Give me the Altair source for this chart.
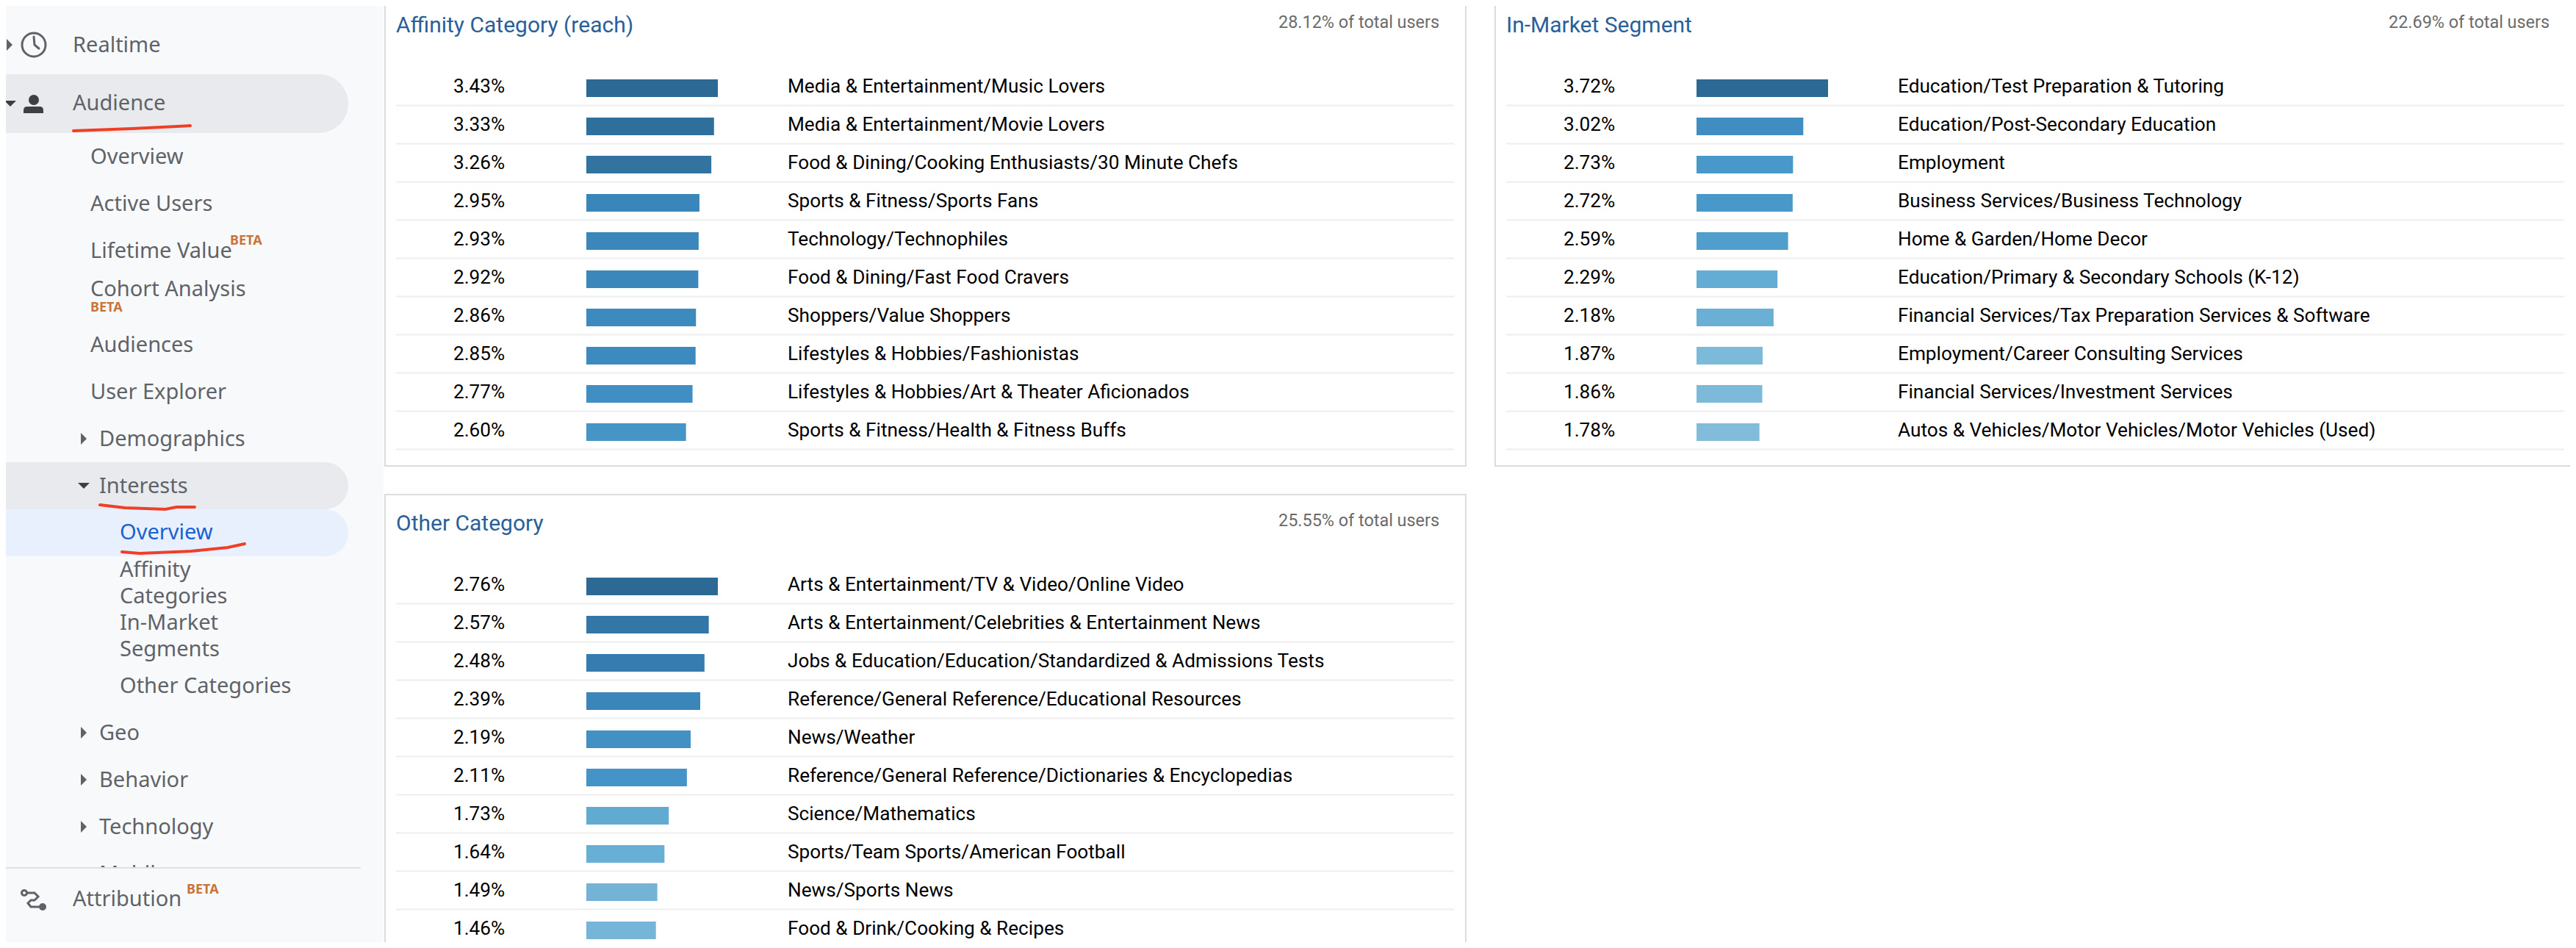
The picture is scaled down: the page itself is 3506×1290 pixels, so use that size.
import altair as alt
import pandas as pd

# ---------- data ----------
AFF_CATS = ["Media & Entertainment/Music Lovers", "Media & Entertainment/Movie Lovers",
            "Food & Dining/Cooking Enthusiasts/30 Minute Chefs", "Sports & Fitness/Sports Fans",
            "Technology/Technophiles", "Food & Dining/Fast Food Cravers", "Shoppers/Value Shoppers",
            "Lifestyles & Hobbies/Fashionistas", "Lifestyles & Hobbies/Art & Theater Aficionados",
            "Sports & Fitness/Health & Fitness Buffs"]
AFF_VALS = [3.43, 3.33, 3.26, 2.95, 2.93, 2.92, 2.86, 2.85, 2.77, 2.60]

MKT_CATS = ["Education/Test Preparation & Tutoring", "Education/Post-Secondary Education", "Employment",
            "Business Services/Business Technology", "Home & Garden/Home Decor",
            "Education/Primary & Secondary Schools (K-12)", "Financial Services/Tax Preparation Services & Software",
            "Employment/Career Consulting Services", "Financial Services/Investment Services",
            "Autos & Vehicles/Motor Vehicles/Motor Vehicles (Used)"]
MKT_VALS = [3.72, 3.02, 2.73, 2.72, 2.59, 2.29, 2.18, 1.87, 1.86, 1.78]

OTH_CATS = ["Arts & Entertainment/TV & Video/Online Video", "Arts & Entertainment/Celebrities & Entertainment News",
            "Jobs & Education/Education/Standardized & Admissions Tests", "Reference/General Reference/Educational Resources",
            "News/Weather", "Reference/General Reference/Dictionaries & Encyclopedias", "Science/Mathematics",
            "Sports/Team Sports/American Football", "News/Sports News", "Food & Drink/Cooking & Recipes"]
OTH_VALS = [2.76, 2.57, 2.48, 2.39, 2.19, 2.11, 1.73, 1.64, 1.49, 1.46]

PANEL_TITLES = ["Affinity Category (reach)", "In-Market Segment", "Other Category"]
PANEL_NOTES = ["28.12% of total users", "22.69% of total users", "25.55% of total users"]

NAV_MAIN = ["Realtime", "Audience", "Attribution"]
NAV_SUB = ["Overview", "Active Users", "Lifetime Value", "Cohort Analysis", "Audiences", "User Explorer"]
NAV_EXP = ["Demographics", "Interests", "Geo", "Behavior", "Technology", "Mobile"]
NAV_LEAF = ["Affinity", "Categories", "In-Market", "Segments", "Other Categories"]

# ---------- styles / layout (reference pixels; the page margin is taken off) ----------
M = 8
W, H = 3490, 1274
RAMP_D = [0.47, 0.50, 0.54, 0.60, 0.63, 0.73, 0.80, 0.86, 0.90, 0.95, 1.0]
RAMP_C = ["#85bcdb", "#7dbad9", "#74b3d6", "#66afd4", "#60a9d2", "#4899c9", "#418fc4", "#3a86ba",
          "#377cb0", "#3273a0", "#2c6a95"]
GREY = "#5f6368"
ORANGE = "#c9743a"
RED = "#ee4027"
FONT = "Roboto"
NAVFONT = "Noto Sans"
NAVSIZE = 29
TRI_RIGHT = "M-0.5,-1L0.5,0L-0.5,1Z"
TRI_DOWN = "M-1,-0.5L1,-0.5L0,0.5Z"
TRI_SIZE = 256


def pv(v):
    return alt.value(v - M)


def txt(s, x, y, size, color, font=FONT, align="left", weight="normal"):
    return alt.Chart(pd.DataFrame({"t": [s]})).mark_text(
        align=align, baseline="middle", font=font, fontSize=size, color=color, fontWeight=weight
    ).encode(x=pv(x), y=pv(y), text="t:N")


def box(x0, x1, y0, y1, fill, **kw):
    return alt.Chart(pd.DataFrame({"a": [0]})).mark_rect(fill=fill, **kw).encode(
        x=pv(x0), x2=pv(x1), y=pv(y0), y2=pv(y1))


def sym(shape, x, y, size, color, filled=True, sw=0):
    return alt.Chart(pd.DataFrame({"a": [0]})).mark_point(
        shape=shape, size=size, filled=filled, opacity=1, color=color, strokeWidth=sw
    ).encode(x=pv(x), y=pv(y))


def stroke(points, color, width, interp="linear"):
    df = pd.DataFrame({"x": [p[0] - M for p in points], "y": [p[1] - M for p in points],
                       "i": list(range(len(points)))})
    return alt.Chart(df).mark_line(color=color, strokeWidth=width, strokeCap="round", interpolate=interp).encode(
        x=alt.X("x:Q", scale=None, axis=None), y=alt.Y("y:Q", scale=None, axis=None), order="i:Q")


def panel(cats, vals, title, note, left, right, box_top, top, bottom):
    """left/right/box_top/bottom: reference pixels of the box; rows hang from top."""
    df = pd.DataFrame({"c": cats, "v": vals, "pct": [f"{v:.2f}%" for v in vals],
                       "ratio": [v / max(vals) for v in vals]})
    yenc = alt.Y("c:N", sort=None, axis=None,
                 scale=alt.Scale(domain=cats, range=[top - M, top + 520 - M], paddingInner=0, paddingOuter=0))
    xenc = alt.X("v:Q", axis=None,
                 scale=alt.Scale(domain=[0, max(vals)], range=[left + 274 - M, left + 453 - M], nice=False, zero=True))
    out = [box(left, right, box_top, bottom, "#ffffff", stroke="#dcdcdc", strokeWidth=2)]
    out.append(alt.Chart(df).mark_rule(color="#eeeeee", strokeWidth=2, yOffset=23.5).encode(
        y=yenc, x=pv(left + 15), x2=pv(left + 1455)))
    out.append(alt.Chart(df).mark_bar(height=24).encode(
        x=xenc, y=yenc,
        color=alt.Color("ratio:Q", legend=None,
                        scale=alt.Scale(domain=RAMP_D, range=RAMP_C, interpolate="rgb"))))
    base = dict(align="left", baseline="middle", font=FONT, fontSize=26.2, color="#000000", dy=-2)
    out.append(alt.Chart(df).mark_text(**base).encode(x=pv(left + 93), y=yenc, text="pct:N"))
    out.append(alt.Chart(df).mark_text(**base).encode(x=pv(left + 548), y=yenc, text="c:N"))
    out.append(txt(title, left + 15, top - 59, 30, "#2a6099"))
    out.append(txt(note, left + 1435, top - 63, 23.4, "#6b6b6b", align="right"))
    return out


layers = []
# sidebar background and pills
layers.append(box(0, 522, 0, 1290, "#f8f9fb"))
layers.append(box(0, 474, 101, 181, "#e8eaed", cornerRadiusTopRight=40, cornerRadiusBottomRight=40))
layers.append(box(0, 474, 629, 693, "#e8eaed", cornerRadiusTopRight=32, cornerRadiusBottomRight=32))
layers.append(box(0, 474, 693, 757, "#e8f0fe", cornerRadiusTopRight=32, cornerRadiusBottomRight=32))

# panels
layers += panel(AFF_CATS, AFF_VALS, PANEL_TITLES[0], PANEL_NOTES[0], 524, 1995, 0, 94, 634)
layers += panel(MKT_CATS, MKT_VALS, PANEL_TITLES[1], PANEL_NOTES[1], 2035, 3505, 0, 94, 634)
layers += panel(OTH_CATS, OTH_VALS, PANEL_TITLES[2], PANEL_NOTES[2], 524, 1995, 673, 772, 1310)

# sidebar text
for s, y in zip(NAV_SUB, [214, 278, 342, 394, 470, 534]):
    layers.append(txt(s, 123, y, NAVSIZE, GREY, NAVFONT))
for s, y in zip(NAV_EXP, [598, 662, 998, 1062, 1126, 1190]):
    layers.append(txt(s, 135, y, NAVSIZE, GREY, NAVFONT))
    if s == "Interests":
        layers.append(sym(TRI_DOWN, 114, y - 1, TRI_SIZE, "#3c4043"))
    elif s != "Mobile":
        layers.append(sym(TRI_RIGHT, 114, y - 1, TRI_SIZE, GREY))
layers.append(txt("Overview", 163, 725, NAVSIZE, "#1a62d0", NAVFONT))
for s, y in zip(NAV_LEAF, [776, 812, 848, 884, 934]):
    layers.append(txt(s, 163, y, NAVSIZE, GREY, NAVFONT))

# lower block covers the clipped "Mobile" row
layers.append(box(0, 522, 1181, 1290, "#f8f9fb"))
layers.append(stroke([(0, 1181), (490, 1181)], "#dfe1e5", 2))

for s, y in zip(NAV_MAIN, [62, 141, 1224]):
    layers.append(txt(s, 99, y, NAVSIZE, GREY, NAVFONT))
for x, y in [(313, 328), (123, 419), (254, 1211)]:
    layers.append(txt("BETA", x, y, 18, ORANGE, NAVFONT, weight="bold"))

# triangles and icons
layers.append(sym(TRI_RIGHT, 13, 61, TRI_SIZE, GREY))
layers.append(sym(TRI_DOWN, 14, 141, TRI_SIZE, "#3c4043"))
layers.append(sym("circle", 46, 61, 1024, GREY, filled=False, sw=3))
layers.append(stroke([(46, 50), (47, 61), (53, 66)], GREY, 3))
layers.append(sym("circle", 46, 136, 196, "#3c4043"))
layers.append(box(32, 59, 145, 154, "#3c4043", cornerRadiusTopLeft=8, cornerRadiusTopRight=8))
layers.append(sym("circle", 33, 1215, 49, GREY, filled=False, sw=3))
layers.append(stroke([(37, 1215), (47, 1215), (52, 1220), (47, 1225), (42, 1225), (38, 1229), (42, 1234), (54, 1234)],
                     GREY, 3))
layers.append(sym("circle", 58, 1234, 100, GREY))
layers.append(sym("circle", 46, 1299, 576, GREY, filled=False, sw=3))

# hand-drawn underlines
layers.append(stroke([(100, 178), (180, 175), (259, 171)], RED, 4))
layers.append(stroke([(136, 687), (170, 691), (225, 693), (240, 690), (265, 690)], RED, 4))
layers.append(stroke([(166, 751), (190, 753), (260, 750), (310, 745), (333, 740)], RED, 4))

chart = alt.layer(*layers).resolve_scale(x="independent", y="independent", color="independent").properties(
    width=W, height=H, padding=0, background="#ffffff",
    autosize=alt.AutoSizeParams(type="none")
).configure_view(stroke=None)

chart.save("out.html", embed_options={"renderer": "svg", "actions": False})
